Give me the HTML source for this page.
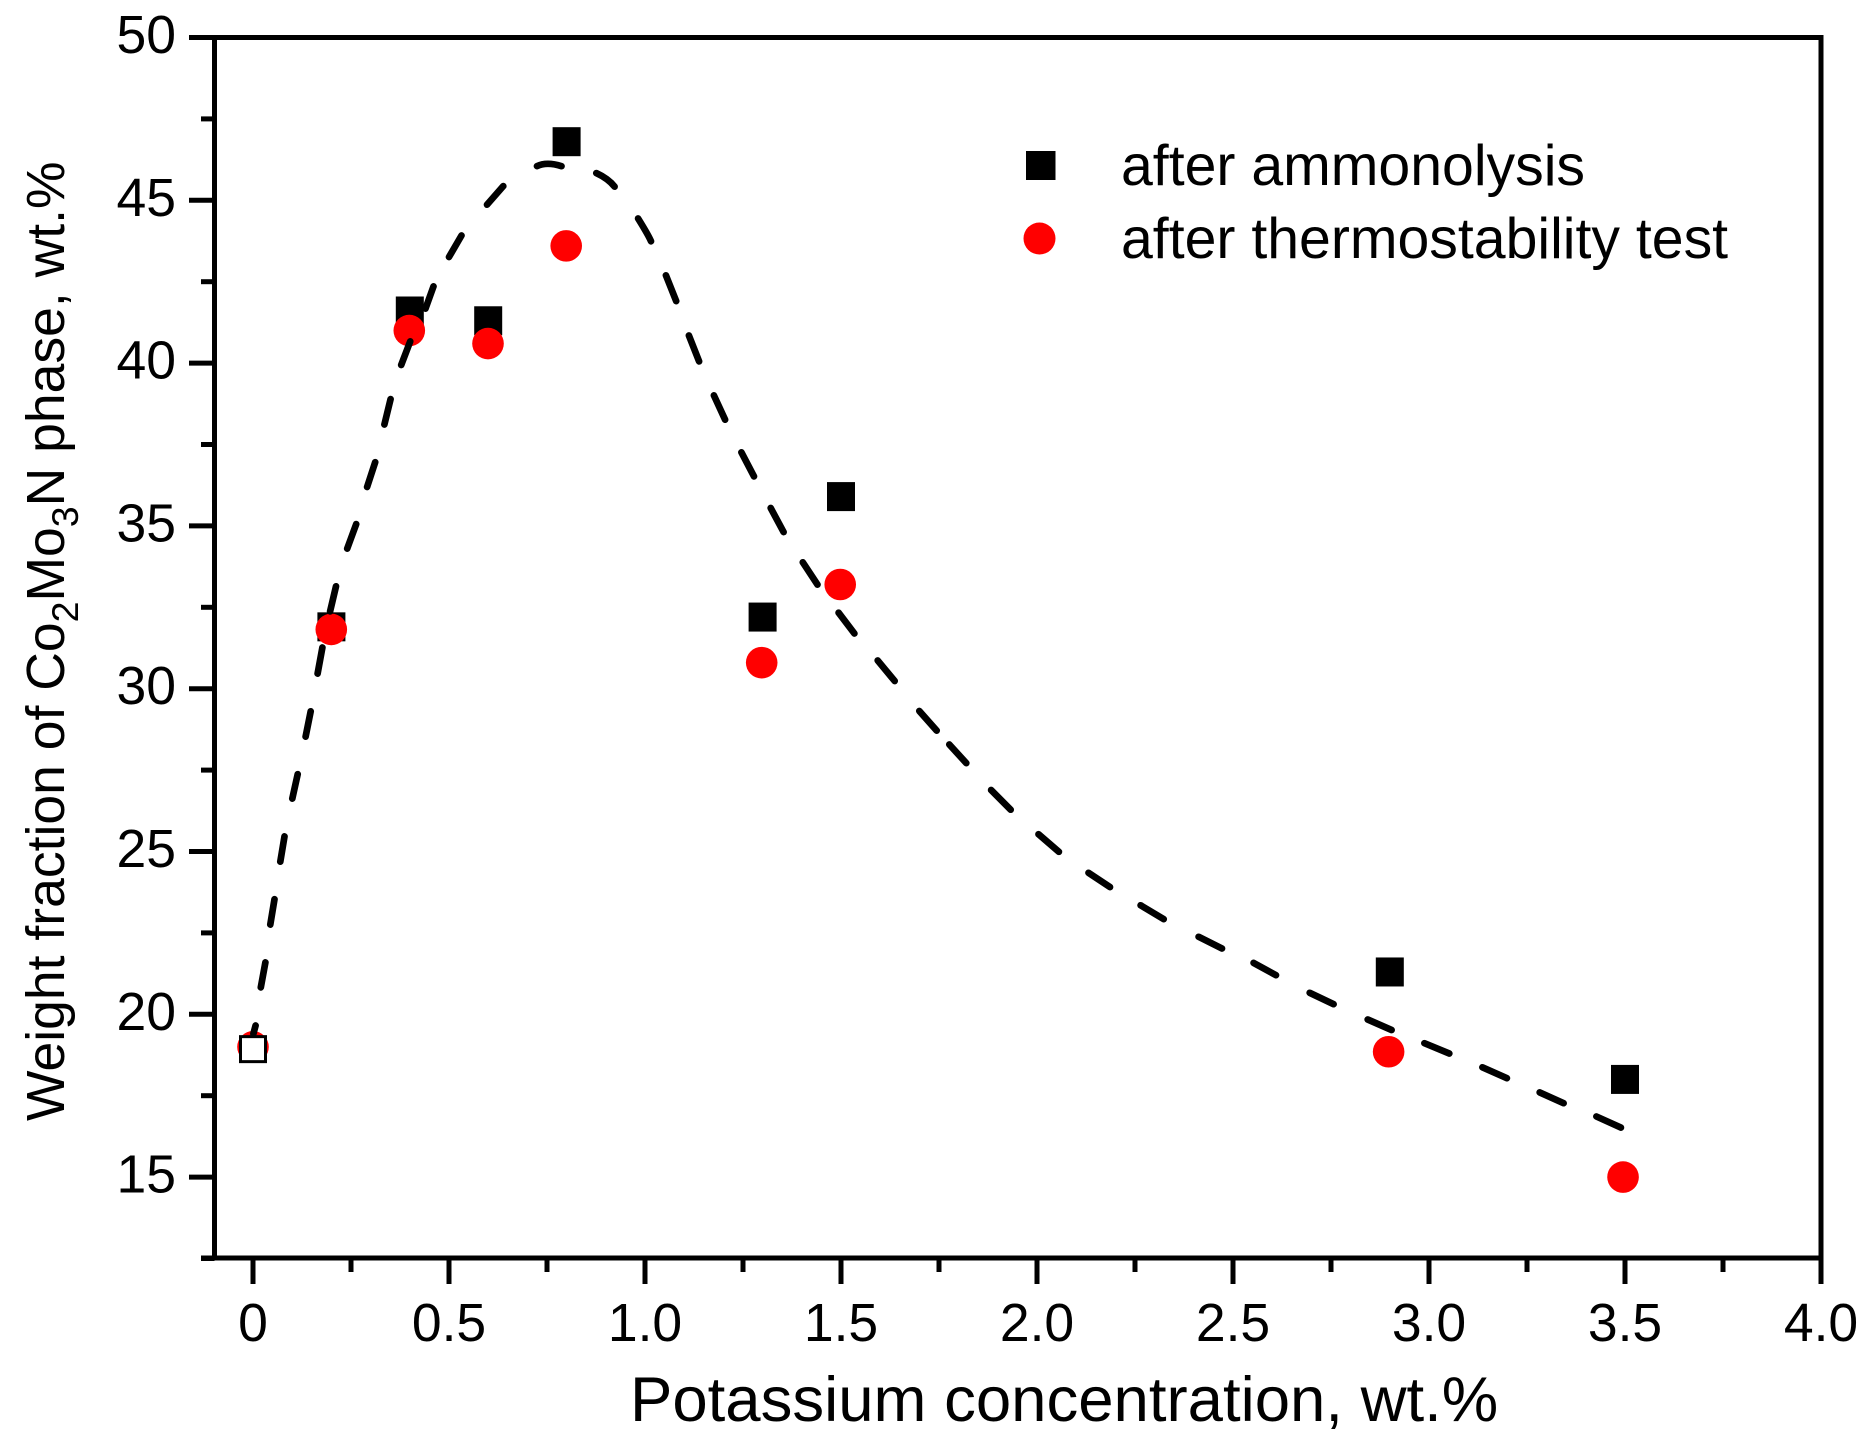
<!DOCTYPE html>
<html lang="en">
<head>
<meta charset="utf-8">
<title>Weight fraction of Co2Mo3N phase vs potassium concentration</title>
<style>
html,body{margin:0;padding:0;background:#fff;}
svg{display:block;}
text{font-family:"Liberation Sans",Arial,sans-serif;fill:#000;}
</style>
</head>
<body>
<svg id="chart" xmlns="http://www.w3.org/2000/svg" width="1868" height="1444" viewBox="0 0 1868 1444">
  <rect x="0" y="0" width="1868" height="1444" fill="#fff"/>
  <g id="axes"></g>
  <g id="marks"></g>
  <text x="630" y="1421" font-size="63.5">Potassium concentration, wt.%</text>
  <text transform="translate(64,1121) rotate(-90)" font-size="53.5">Weight fraction of Co<tspan dy="14" font-size="37.5">2</tspan><tspan dy="-14">Mo</tspan><tspan dy="14" font-size="37.5">3</tspan><tspan dy="-14">N phase, wt.%</tspan></text>
  <g>
    <rect x="1026" y="151" width="29.5" height="29" fill="#000"/>
    <text x="1121" y="185" font-size="57.2">after ammonolysis</text>
    <circle cx="1039.5" cy="238.5" r="16" fill="#f00"/>
    <text x="1121" y="258" font-size="57.2">after thermostability test</text>
  </g>
</svg>
<script>
const ammonolysisX = [0, 0.2, 0.4, 0.6, 0.8, 1.3, 1.5, 2.9, 3.5];
const ammonolysisY = [18.93, 31.9, 41.6, 41.3, 46.8, 32.2, 35.9, 21.3, 18.0];
const thermoX = [0, 0.1997, 0.3987, 0.5995, 0.799, 1.2977, 1.498, 2.897, 3.495];
const thermoY = [19.0, 31.82, 41.0, 40.6, 43.6, 30.8, 33.2, 18.85, 15.0];

const curveX = [0,0.0077,null,0.0191,0.0324,null,0.0434,0.0554,null,0.0689,0.0809,null,0.0995,0.1148,null,0.1334,0.148,null,0.164,0.1778,null,0.1959,0.2125,null,0.239,0.2645,null,0.29,0.313,null,0.3342,0.352,null,0.3768,0.4023,null,0.4388,0.4617,null,0.4982,0.5339,null,0.5944,0.6411,null,0.7207,0.7526,0.7908,null,0.8724,0.9023,0.9253,null,0.9804,1.0043,1.0171,null,1.0518,1.0809,null,1.1105,1.1395,null,1.1742,1.2059,null,1.2441,1.2798,null,1.3189,1.3554,null,1.4005,1.4421,null,1.4916,1.5365,null,1.5911,1.6395,null,1.6972,1.7467,null,1.7737,1.8222,null,1.8801,1.9355,null,2.0008,2.0587,null,2.1283,2.1895,null,2.261,2.3265,null,2.4089,2.4753,null,2.5492,2.613,null,2.6921,2.7602,null,2.8401,2.9082,null,2.9847,3.0554,null,3.1327,3.2023,null,3.2788,3.3469,null,3.4235,3.4931];
const curveY = [19.36,19.7,null,20.78,21.64,null,22.71,23.58,null,24.64,25.51,null,26.58,27.42,null,28.48,29.35,null,30.42,31.31,null,32.33,33.19,null,34.26,35.1,null,36.15,37.0,null,38.07,38.94,null,39.9,40.71,null,41.63,42.4,null,43.22,43.96,null,44.83,45.47,null,46.04,46.12,46.04,null,45.86,45.65,45.39,null,44.48,44.0,43.7,null,42.74,41.86,null,40.89,40.01,null,39.05,38.22,null,37.3,36.48,null,35.59,34.77,null,33.92,33.16,null,32.37,31.66,null,30.9,30.2,null,29.35,28.68,null,28.32,27.68,null,26.92,26.25,null,25.56,24.96,null,24.37,23.88,null,23.37,22.9,null,22.4,22.0,null,21.6,21.18,null,20.68,20.29,null,19.86,19.5,null,19.13,18.78,null,18.39,18.02,null,17.62,17.25,null,16.88,16.5];

const xMajorTicks = [0, 0.5, 1, 1.5, 2, 2.5, 3, 3.5, 4];
const xTickLabels = ["0", "0.5", "1.0", "1.5", "2.0", "2.5", "3.0", "3.5", "4.0"];
const xMinorTicks = [0.25, 0.75, 1.25, 1.75, 2.25, 2.75, 3.25, 3.75];
const yMajorTicks = [15, 20, 25, 30, 35, 40, 45, 50];
const yTickLabels = ["15", "20", "25", "30", "35", "40", "45", "50"];
const yMinorTicks = [12.5, 17.5, 22.5, 27.5, 32.5, 37.5, 42.5, 47.5];

const plotLeft = 214.5, plotRight = 1821, plotTop = 37.5, plotBottom = 1258;
const sx = v => 253 + v * 392;
const sy = v => 37.5 + (50 - v) * 32.56;

const NS = "http://www.w3.org/2000/svg";
const axes = document.getElementById("axes");
const marks = document.getElementById("marks");
function make(parent, tag, attrs, text) {
  const el = document.createElementNS(NS, tag);
  for (const k in attrs) el.setAttribute(k, attrs[k]);
  if (text !== undefined) el.textContent = text;
  parent.appendChild(el);
  return el;
}
function line(x1, y1, x2, y2) {
  return make(axes, "line", {x1: x1, y1: y1, x2: x2, y2: y2, stroke: "#000", "stroke-width": 5});
}

let el = line(189, plotTop, plotRight + 2.5, plotTop);


el = line(201, plotBottom, plotRight + 2.5, plotBottom);


el = line(plotLeft, plotTop - 2.5, plotLeft, plotBottom + 2.5);


el = line(plotRight, plotTop - 2.5, plotRight, 1284);



xMajorTicks.forEach((v, i) => {
  const t = line(sx(v), plotBottom, sx(v), 1284);
  
  
  const l = make(axes, "text", {x: sx(v), y: 1341, "font-size": 53.5, "text-anchor": "middle"}, xTickLabels[i]);
  
  
});
xMinorTicks.forEach(v => {
  const t = line(sx(v), plotBottom, sx(v), 1272);
  
  
});
yMajorTicks.forEach((v, i) => {
  const t = line(189, sy(v), plotLeft, sy(v));
  
  
  const l = make(axes, "text", {x: 176, y: sy(v) + 15.5, "font-size": 53.5, "text-anchor": "end"}, yTickLabels[i]);
  
  
});
yMinorTicks.forEach(v => {
  const t = line(201, sy(v), plotLeft, sy(v));
  
  
});

ammonolysisX.forEach((v, i) => {
  if (i === 0) return;
  const s = make(marks, "rect", {x: sx(v) - 14, y: sy(ammonolysisY[i]) - 14.5, width: 28, height: 29, fill: "#000"});
  
  
});
thermoX.forEach((v, i) => {
  const c = make(marks, "circle", {cx: sx(v), cy: sy(thermoY[i]), r: 15.8, fill: "#f00"});
  
  
});
const hollow = make(marks, "rect", {x: sx(ammonolysisX[0]) - 12.5, y: sy(ammonolysisY[0]) - 12.5, width: 25, height: 25, fill: "#fff", stroke: "#000", "stroke-width": 3});



// Each run of points between nulls is one dash; ends are pulled in slightly
// so the round caps land where the reference dash ends.
const capInset = 1.5;
function inset(a, b) {
  const dx = b[0] - a[0], dy = b[1] - a[1], len = Math.hypot(dx, dy) || 1;
  return [a[0] + dx / len * capInset, a[1] + dy / len * capInset];
}
let d = "";
let run = [];
function flushDash() {
  if (run.length >= 2) {
    const first = inset(run[0], run[1]);
    const last = inset(run[run.length - 1], run[run.length - 2]);
    d += "M" + first[0].toFixed(1) + " " + first[1].toFixed(1);
    if (run.length === 3) {
      const m = run[1];
      const cx = 2 * m[0] - (first[0] + last[0]) / 2;
      const cy = 2 * m[1] - (first[1] + last[1]) / 2;
      d += "Q" + cx.toFixed(1) + " " + cy.toFixed(1) + " " + last[0].toFixed(1) + " " + last[1].toFixed(1);
    } else {
      d += "L" + last[0].toFixed(1) + " " + last[1].toFixed(1);
    }
  }
  run = [];
}
curveX.forEach((v, i) => {
  if (v === null) { flushDash(); return; }
  run.push([sx(v), sy(curveY[i])]);
});
flushDash();
const curve = make(marks, "path", {d: d, fill: "none", stroke: "#000", "stroke-width": 6.7, "stroke-linecap": "round", "stroke-linejoin": "round"});


</script>
</body>
</html>
